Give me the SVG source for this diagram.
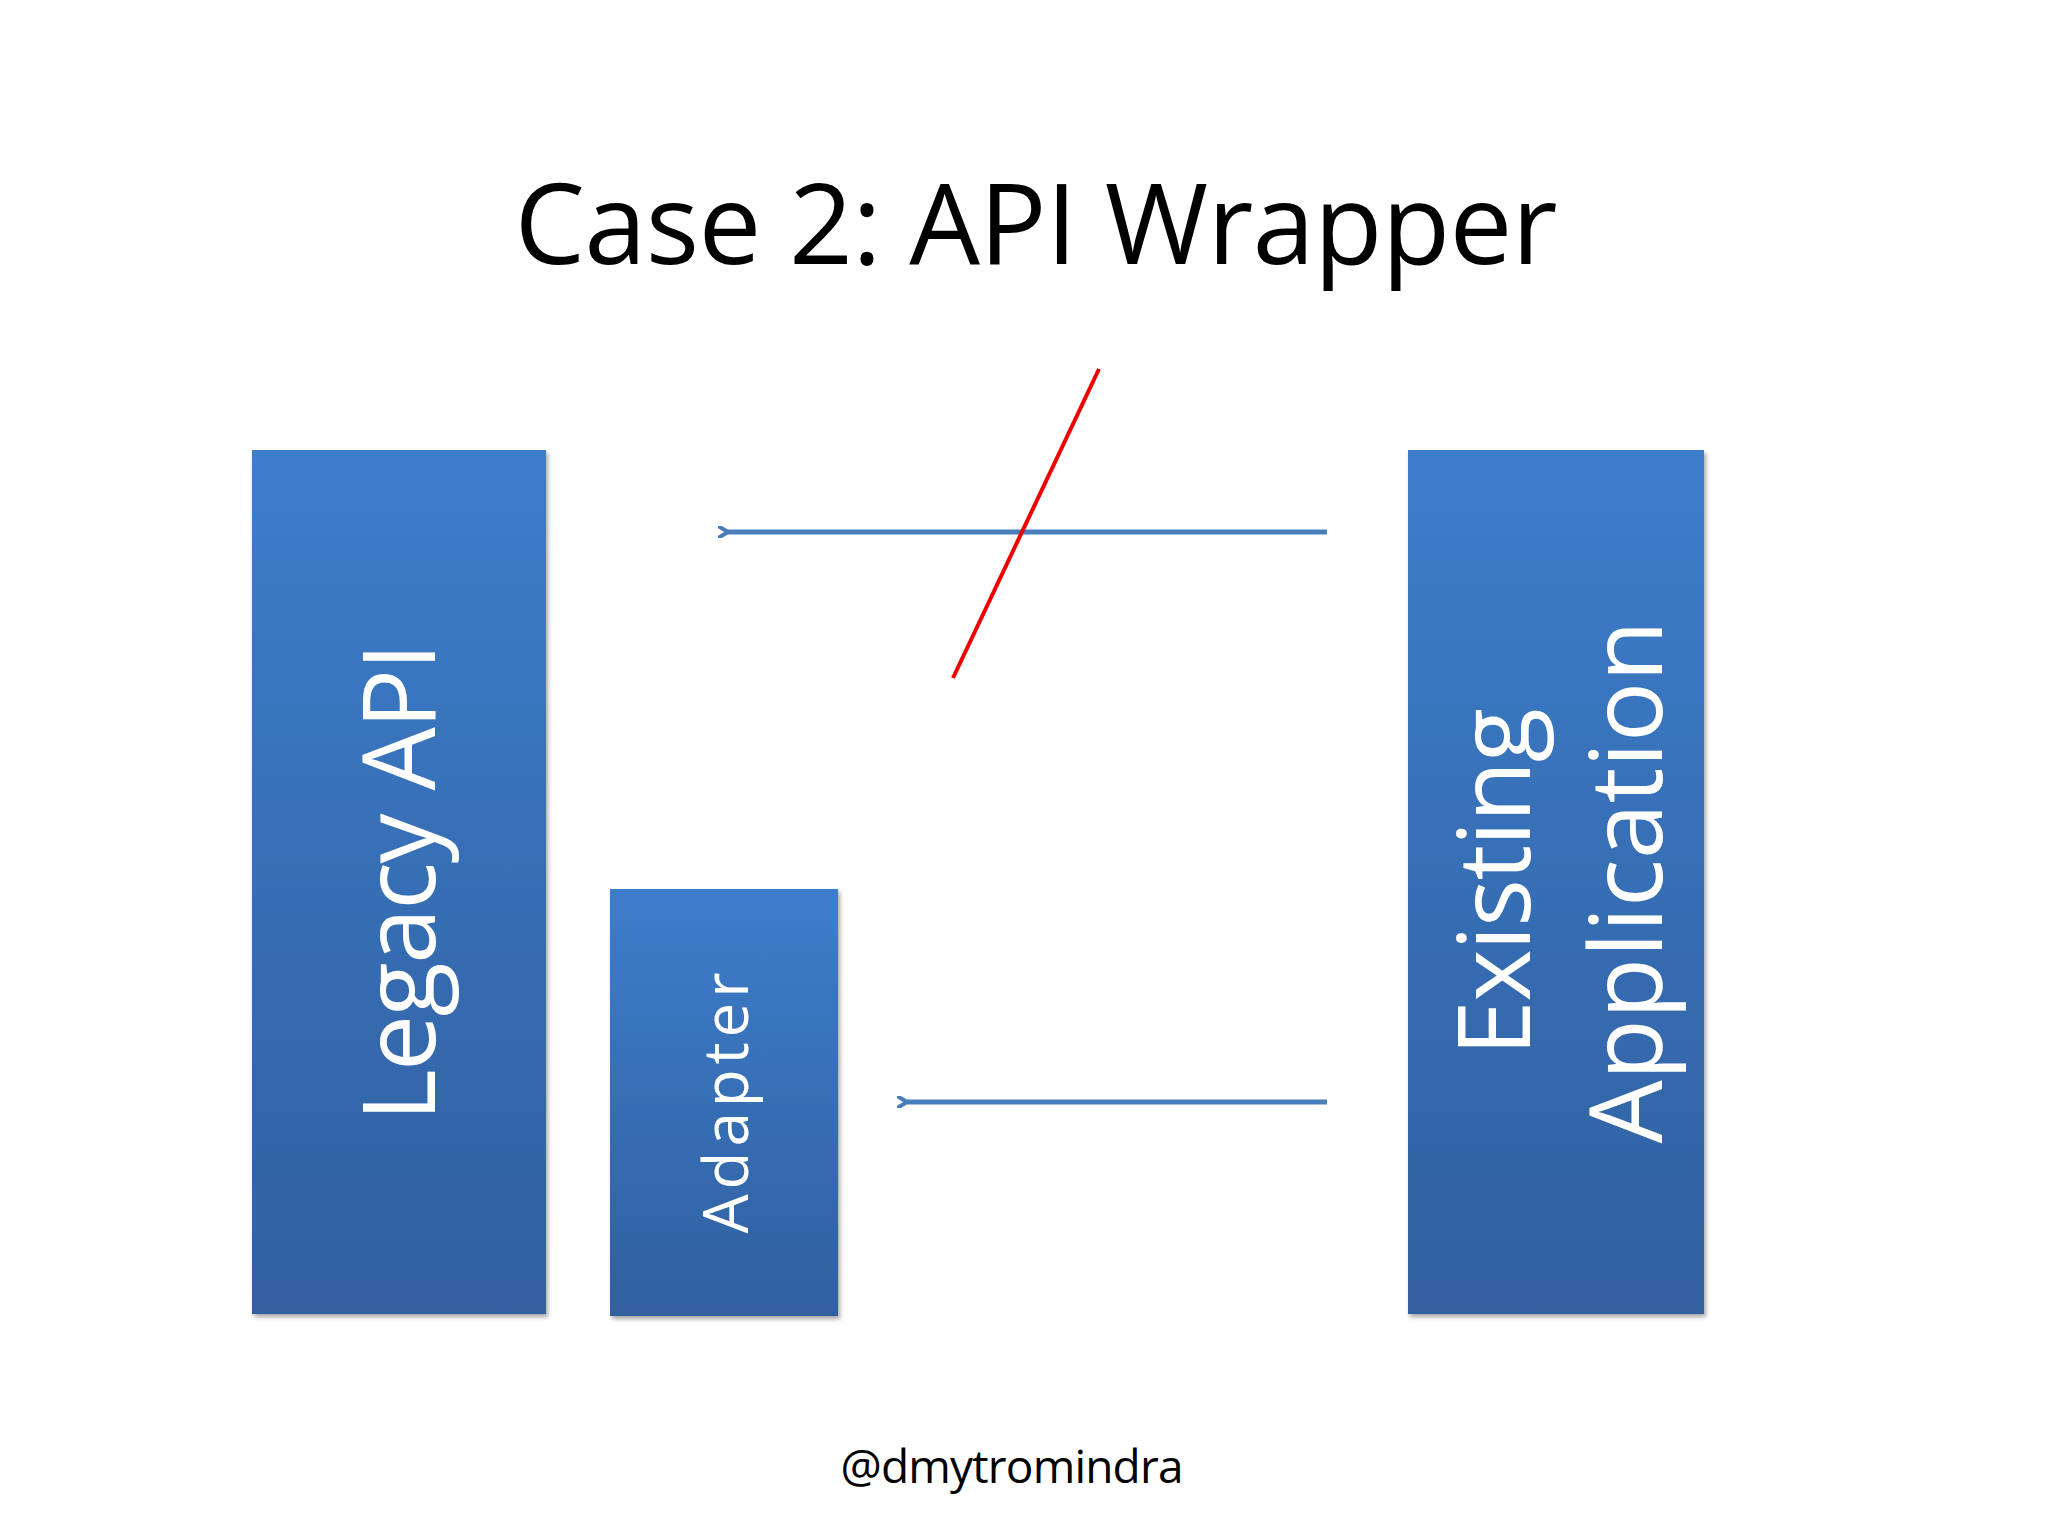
<svg xmlns="http://www.w3.org/2000/svg" width="2048" height="1536" viewBox="0 0 2048 1536">
<defs>
<linearGradient id="g" x1="0" y1="0" x2="0" y2="1"><stop offset="0" stop-color="#3d7dcb"/><stop offset="1" stop-color="#30609f"/></linearGradient>
<filter id="sh" x="-10%" y="-10%" width="130%" height="130%"><feDropShadow dx="2" dy="3" stdDeviation="2" flood-opacity="0.35"/></filter>
<marker id="ah" markerWidth="12" markerHeight="12" refX="2" refY="6" orient="auto" markerUnits="userSpaceOnUse"><path d="M12,0 L2,6 L12,12" fill="none" stroke="#4a7ebb" stroke-width="4"/></marker>
</defs>
<style>
.box{fill:url(#g);filter:url(#sh)}
.t{font-family:"Open Sans","Liberation Sans",sans-serif;fill:#fff;text-anchor:middle}
.c{stroke:#4a7ebb;stroke-width:5;fill:none;marker-end:url(#ah)}
</style>
<rect width="2048" height="1536" fill="#fff"/>
<text x="1036" y="264" font-family="'Open Sans','Liberation Sans',sans-serif" font-size="112" text-anchor="middle" textLength="1043" fill="#000">Case 2: API Wrapper</text>
<g id="legacy"><rect class="box" x="252" y="450" width="294" height="864"/>
<text class="t" font-size="100" transform="translate(435,882) rotate(-90)" textLength="479">Legacy API</text></g>
<g id="adapter"><rect class="box" x="610" y="889" width="228" height="427"/>
<text class="t" font-size="62" transform="translate(748,1103) rotate(-90)" textLength="261">Adapter</text></g>
<g id="existing"><rect class="box" x="1408" y="450" width="296" height="864"/>
<text class="t" font-size="100" transform="translate(1530,882) rotate(-90)" textLength="348">Existing</text>
<text class="t" font-size="100" transform="translate(1662,882) rotate(-90)" textLength="523">Application</text></g>
<g id="connectors">
<line class="c" x1="1327" y1="532" x2="728" y2="532"/>
<line class="c" x1="1327" y1="1102" x2="907" y2="1102"/>
<line x1="1099" y1="369" x2="953" y2="678" stroke="#e00" stroke-width="4"/>
</g>
<text x="1012" y="1483" font-family="'Open Sans','Liberation Sans',sans-serif" font-size="46" text-anchor="middle" textLength="343" fill="#000">@dmytromindra</text>
</svg>
